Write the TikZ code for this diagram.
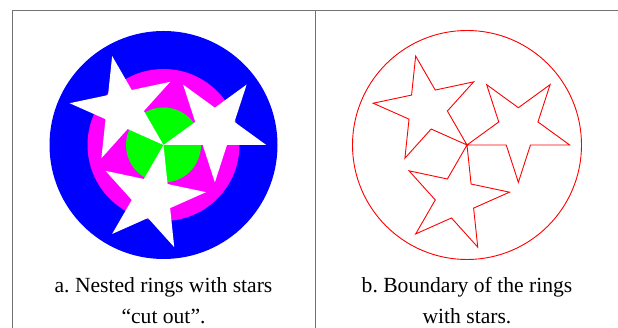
\documentclass[tikz,border=0pt]{standalone}
\usepackage{fontspec}
\setmainfont{Liberation Serif}
\usetikzlibrary{calc}
\definecolor{ringblue}{RGB}{0,0,255}
\definecolor{ringmag}{RGB}{255,0,255}
\definecolor{ringgreen}{RGB}{0,255,0}
\definecolor{edgered}{RGB}{255,0,0}
\frenchspacing

\begin{document}
\begin{tikzpicture}[
    x=1pt, y=1pt,
    rule/.style={draw=black!55, line width=1pt},
    cutstar/.style={fill=white},
    outline/.style={draw=edgered, line width=0.9pt},
    caption/.style={align=center, font=\fontsize{21.6}{31}\selectfont, anchor=base},
  ]
    \useasboundingbox (0,0) rectangle (618,328);

    % --- table rules ---
    \coordinate (tl) at (12,317);
    \coordinate (tm) at (315,317);
    \coordinate (tr) at (618,317);
    \coordinate (bl) at (12,0);
    \coordinate (bm) at (315,0);
    \draw[rule] (tr) -- (tl) -- (bl);
    \draw[rule] (tm) -- (bm);

    % --- (a) nested rings, stars cut out ---
    \coordinate (ca) at (163.5,183);
    \fill[ringblue] (ca) circle[radius=114];
    \fill[ringmag] (ca) circle[radius=76];
    \fill[ringgreen] (ca) circle[radius=37.5];
    \foreach \a in {18,138,258}
      \fill[cutstar, shift={(ca)}, shift={(\a:54)}] (\a+180:54)
        \foreach \k in {0,...,4} { -- (\a+216+72*\k:20.6) -- (\a+252+72*\k:54) } -- cycle;

    % --- (b) boundary of the rings with stars ---
    \coordinate (cb) at (467,183);
    \draw[outline] (cb) circle[radius=114.5];
    \foreach \a in {18,138,258}
      \draw[outline, shift={(cb)}, shift={(\a:54)}] (\a+180:54)
        \foreach \k in {0,...,4} { -- (\a+216+72*\k:20.6) -- (\a+252+72*\k:54) } -- cycle;

    % --- captions (base = last line) ---
    \node[caption] (capa) at (163.5,4) {a. Nested rings with stars\\“cut out”.};
    \node[caption] (capb) at (467,4) {b. Boundary of the rings\\with stars.};
  \end{tikzpicture}
\end{document}
